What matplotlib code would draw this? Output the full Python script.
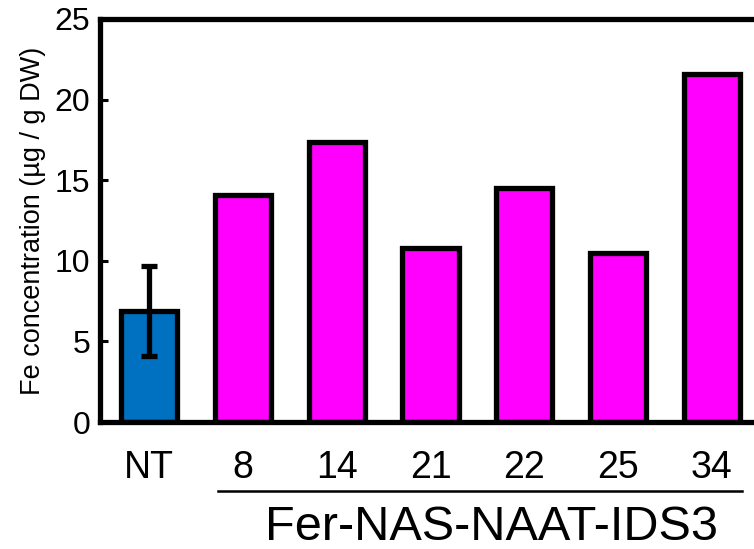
import matplotlib.pyplot as plt
import matplotlib.transforms as mtransforms
import numpy as np

plt.rcParams['font.family'] = ['Liberation Sans', 'DejaVu Sans']

labels = ['NT', '8', '14', '21', '22', '25', '34']
fe_conc = [6.9, 14.1, 17.4, 10.8, 14.5, 10.5, 21.6]
fe_err = [2.8, 0, 0, 0, 0, 0, 0]
colors = ['#0070C0'] + ['#FF00FF'] * 6
group_name = 'Fer-NAS-NAAT-IDS3'

fig = plt.figure(figsize=(7.54, 5.49), dpi=100)
ax = fig.add_axes((100 / 754, 127 / 549, 654 / 754, 403 / 549))

xs = np.arange(len(labels))
ax.bar(xs, fe_conc, width=0.6, color=colors, edgecolor='black', linewidth=3.8, zorder=2)
ax.errorbar(xs[0], fe_conc[0], yerr=fe_err[0], fmt='none', ecolor='black',
            elinewidth=3.8, capsize=6, capthick=3.8, zorder=3)

ax.set_xlim(-0.526, 6.45)
ax.set_ylim(0, 25)
ax.set_yticks(range(0, 26, 5))
ax.set_xticks(xs, labels)

for side in ['top', 'left', 'bottom']:
    ax.spines[side].set_linewidth(3.8)
ax.spines['right'].set_visible(False)

ax.tick_params(axis='y', direction='in', length=6, width=2.2, labelsize=23, pad=7)
ax.tick_params(axis='x', length=0, labelsize=27, pad=20)
ax.set_ylabel('Fe concentration (µg / g DW)', fontsize=19.5, labelpad=6)

# group bracket under the transgenic lines
trans = mtransforms.blended_transform_factory(ax.transData, ax.transAxes)
ax.plot([xs[1] - 0.27, xs[-1] + 0.32], [-0.171, -0.171], color='black', lw=1.8,
        transform=trans, clip_on=False)
ax.text(3.65, -0.262, group_name, transform=trans, ha='center', va='center', fontsize=35)

fig.savefig('out.png', dpi=100)
